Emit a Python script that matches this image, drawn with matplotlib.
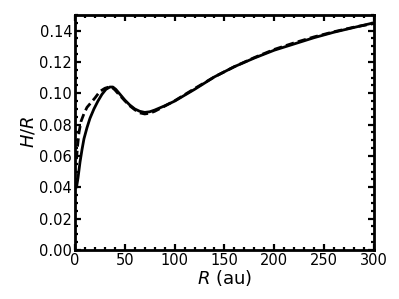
import matplotlib
matplotlib.use("Agg")
import matplotlib.pyplot as plt
from matplotlib.ticker import MultipleLocator, FormatStrFormatter

R_solid = [1.5, 3, 5, 7, 9, 12, 15, 19, 23, 27, 31, 35, 38, 41, 45, 50, 55, 60, 65, 70, 75, 80,
           90, 100, 120, 140, 160, 180, 200, 220, 240, 260, 280, 300]
HR_solid = [0.040, 0.046, 0.056, 0.064, 0.071, 0.078, 0.084, 0.090, 0.095, 0.0993, 0.1025,
            0.1040, 0.1040, 0.1025, 0.0995, 0.0957, 0.0925, 0.0900, 0.0885, 0.0878, 0.0882,
            0.0893, 0.0920, 0.0950, 0.1025, 0.1105, 0.1170, 0.1225, 0.1275, 0.1315, 0.1355,
            0.1390, 0.1420, 0.1450]

R_dash = [1.5, 2.5, 4, 6, 9, 12, 16, 20, 25, 30, 34, 37, 40, 43, 46, 50, 55, 60, 65, 70, 75, 80,
          90, 100, 120, 140, 160, 180, 200, 220, 240, 260, 280, 300]
HR_dash = [0.058, 0.066, 0.075, 0.082, 0.087, 0.091, 0.094, 0.097, 0.1012, 0.1032, 0.1040,
           0.1038, 0.1022, 0.1000, 0.0980, 0.0952, 0.0920, 0.0895, 0.0875, 0.0868, 0.0873,
           0.0885, 0.0918, 0.0952, 0.1030, 0.1105, 0.1170, 0.1228, 0.1280, 0.1322, 0.1360,
           0.1393, 0.1422, 0.1445]

fig = plt.figure(figsize=(3.99, 2.99), dpi=100)
ax = fig.add_axes([0.188, 0.164, 0.749, 0.786])

ax.plot(R_solid, HR_solid, color="black", lw=2.0, solid_capstyle="round")
ax.plot(R_dash, HR_dash, color="black", lw=2.0, ls=(0, (3, 1.5)))

ax.set_xlim(0, 300)
ax.set_ylim(0, 0.15)
ax.xaxis.set_major_locator(MultipleLocator(50))
ax.xaxis.set_minor_locator(MultipleLocator(10))
ax.yaxis.set_major_locator(MultipleLocator(0.02))
ax.yaxis.set_minor_locator(MultipleLocator(0.005))
ax.yaxis.set_major_formatter(FormatStrFormatter("%.2f"))

ax.tick_params(which="both", direction="in", top=True, right=True, width=1.6, labelsize=10.5, pad=2)
ax.tick_params(which="major", length=4.5)
ax.tick_params(which="minor", length=2.5)
for s in ax.spines.values():
    s.set_linewidth(2.0)

ax.set_xlabel(r"$\it{R}$ (au)", fontsize=13, labelpad=0)
ax.set_ylabel(r"$\it{H/R}$", fontsize=13, labelpad=1)

fig.savefig("out.png", dpi=100)
